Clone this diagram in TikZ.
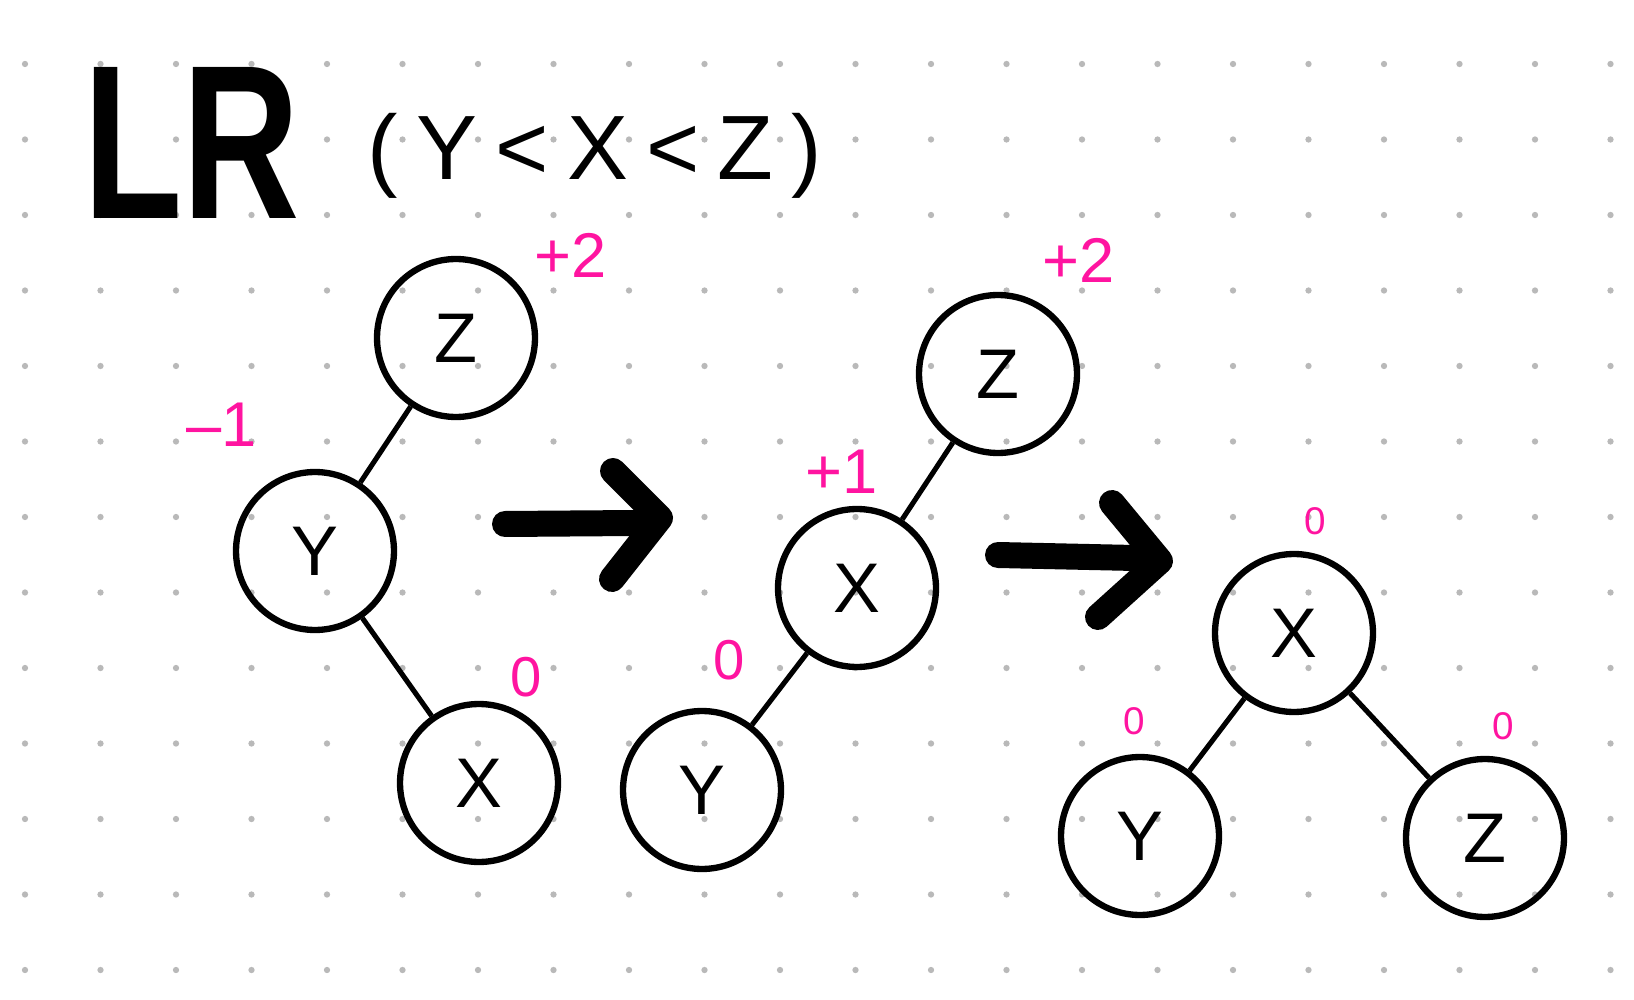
\documentclass[tikz,border=0pt]{standalone}
\usepackage{fontspec}
\setmainfont{Liberation Sans}
\usepackage{tikz}
\usetikzlibrary{calc}
\definecolor{balpink}{RGB}{255,20,160}
\definecolor{dotgray}{RGB}{185,185,185}

\begin{document}
\begin{tikzpicture}[x=0.02cm, y=-0.02cm,
    tnode/.style={draw, circle, line width=3.6pt, minimum size=3.16cm,
                  inner sep=0pt, font=\fontsize{40}{40}\selectfont},
    edge/.style={line width=2.9pt},
    bal/.style={text=balpink, font=\fontsize{36}{36}\selectfont},
    balmid/.style={text=balpink, font=\fontsize{32}{32}\selectfont},
    balsm/.style={text=balpink, font=\fontsize{22}{22}\selectfont},
    arr/.style={line width=0.52cm, line cap=round, line join=round},
  ]
  \useasboundingbox (0,0) rectangle (1634,1000);
  % Dot grid
  \foreach \i in {0,...,21} {
    \foreach \j in {0,...,12} {
      \fill[dotgray] (25+\i*75.5, 64+\j*75.5) circle (1.8pt);
    }
  }

  % Title
  \node[font=\fontsize{125}{125}\selectfont\bfseries] (title) at (192,143)
    {\scalebox{0.74}[1]{LR}};
  \node[font=\fontsize{52}{52}\selectfont] (order) at (595,156)
    {(\hspace{0.2em}Y\hspace{0.2em}<\hspace{0.2em}X\hspace{0.2em}<\hspace{0.2em}Z\hspace{0.2em})};

  % Tree 1
  \node[tnode] (z1) at (456,338) {Z};
  \node[tnode] (y1) at (315,551) {Y};
  \node[tnode] (x1) at (479,783) {X};
  \draw[edge] (z1) -- (y1);
  \draw[edge] (y1) -- (x1);
  \node[bal] (bz1) at (571,255) {+2};
  \node[bal] (by1) at (222,425) {--1};
  \node[balmid] (bx1) at (526,677) {0};

  % Arrow 1
  \coordinate (a1s) at (505,524);
  \coordinate (a1m) at (635,523);
  \coordinate (a1e) at (660,518);
  \draw[arr] (a1s) -- (a1m);
  \draw[arr] ($(a1e)+(-47,-47)$) -- (a1e) -- ($(a1e)+(-48,61)$);

  % Tree 2
  \node[tnode] (z2) at (998,374) {Z};
  \node[tnode] (x2) at (857,588) {X};
  \node[tnode] (y2) at (702,790) {Y};
  \draw[edge] (z2) -- (x2);
  \draw[edge] (x2) -- (y2);
  \node[bal] (bz2) at (1079,260) {+2};
  \node[bal] (bx2) at (842,472) {+1};
  \node[balmid] (by2) at (729,660) {0};

  % Arrow 2
  \coordinate (a2s) at (998,555);
  \coordinate (a2m) at (1135,558);
  \coordinate (a2e) at (1160,561);
  \draw[arr] (a2s) -- (a2m);
  \draw[arr] ($(a2e)+(-48,-58)$) -- (a2e) -- ($(a2e)+(-62,56)$);

  % Tree 3
  \node[tnode] (x3) at (1294,633) {X};
  \node[tnode] (y3) at (1140,836) {Y};
  \node[tnode] (z3) at (1485,838) {Z};
  \draw[edge] (x3) -- (y3);
  \draw[edge] (x3) -- (z3);
  \node[balsm] (bx3) at (1315,521) {0};
  \node[balsm] (by3) at (1134,721) {0};
  \node[balsm] (bz3) at (1503,726) {0};
\end{tikzpicture}
\end{document}
